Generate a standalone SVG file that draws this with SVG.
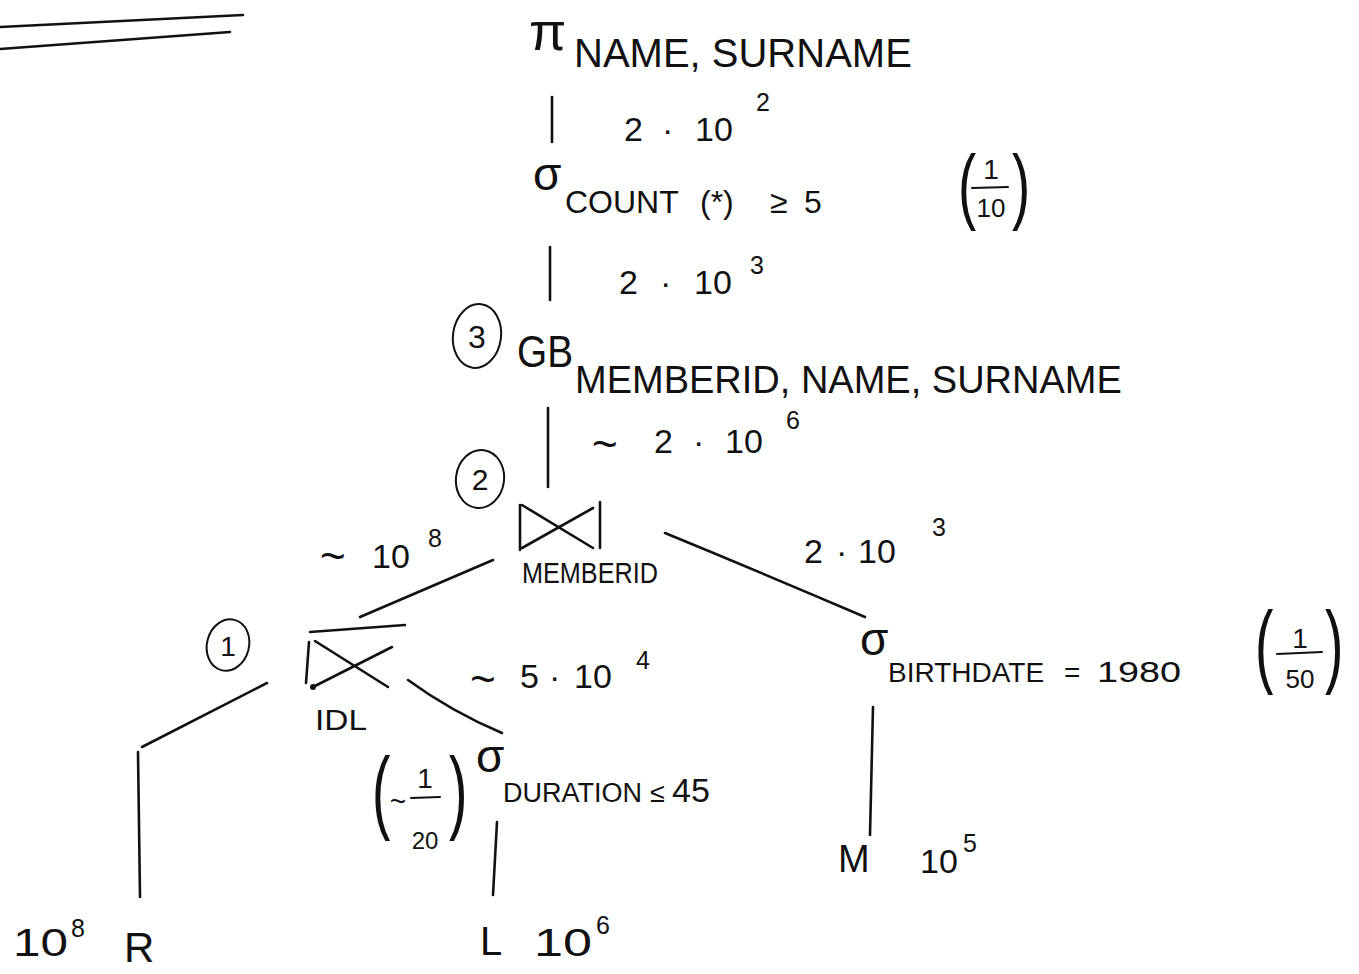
<svg xmlns="http://www.w3.org/2000/svg" width="1359" height="974" viewBox="0 0 1359 974">
<style>
  text { font-family: "Liberation Sans", "DejaVu Sans", sans-serif; fill: #111; }
  .ln { stroke: #111; stroke-width: 2.6; fill: none; stroke-linecap: round; stroke-linejoin: round; }
  .thin { stroke: #111; stroke-width: 2; fill: none; stroke-linecap: round; }
  .mid { text-anchor: middle; }
  .num { font-size: 34px; }
  .sup { font-size: 25px; }
  .til { font-size: 44px; }
</style>
<rect width="1359" height="974" fill="#ffffff"/>
<g id="title-underline">
  <path class="ln" d="M0,27 L243,15"/>
  <path class="ln" d="M0,49 L230,32"/>
</g>
<g id="connectors">
  <path class="ln" d="M552,97 L552,142"/>
  <path class="ln" d="M550,247 L550,300"/>
  <path class="ln" d="M548,408 L548,487"/>
  <path class="ln" d="M493,560 L360,617"/>
  <path class="ln" d="M665,533 Q760,572 865,617"/>
  <path class="ln" d="M267,683 L142,747"/>
  <path class="ln" d="M138,752 L140,897"/>
  <path class="ln" d="M408,680 Q452,712 502,733"/>
  <path class="ln" d="M497,822 L493,895"/>
  <path class="ln" d="M873,707 L870,835"/>
</g>
<g id="edge-labels">
  <text class="num" y="141"><tspan x="624">2</tspan><tspan x="662">·</tspan><tspan x="695">10</tspan></text>
  <text class="sup" x="756" y="111">2</text>
  <text class="num" y="294"><tspan x="619">2</tspan><tspan x="660">·</tspan><tspan x="694">10</tspan></text>
  <text class="sup" x="750" y="274">3</text>
  <text class="til" x="592" y="459">~</text>
  <text class="num" y="453"><tspan x="654">2</tspan><tspan x="693">·</tspan><tspan x="725">10</tspan></text>
  <text class="sup" x="786" y="429">6</text>
  <text class="til" x="320" y="571">~</text>
  <text class="num" x="372" y="568">10</text>
  <text class="sup" x="428" y="547">8</text>
  <text class="num" y="563"><tspan x="804">2</tspan><tspan x="836">·</tspan><tspan x="858">10</tspan></text>
  <text class="sup" x="932" y="536">3</text>
  <text class="til" x="470" y="694">~</text>
  <text class="num" y="688"><tspan x="520">5</tspan><tspan x="549">·</tspan><tspan x="574">10</tspan></text>
  <text class="sup" x="636" y="669">4</text>
</g>
<g id="node-project">
  <text x="529" y="50" font-size="54">π</text>
  <text x="574" y="67" font-size="40">NAME, SURNAME</text>
</g>
<g id="node-select-count">
  <text x="533" y="190" font-size="46">σ</text>
  <text font-size="32" y="213"><tspan x="565">COUNT</tspan><tspan x="700">(*)</tspan><tspan x="770">≥</tspan><tspan x="804">5</tspan></text>
  <text x="0" y="0" font-size="84" transform="translate(958,214) scale(0.65,1)">(</text>
  <text x="991" y="179" font-size="28" class="mid">1</text>
  <path class="thin" d="M972,188 L1008,187"/>
  <text x="991" y="217" font-size="26" class="mid">10</text>
  <text x="0" y="0" font-size="84" transform="translate(1012,214) scale(0.65,1)">)</text>
</g>
<g id="node-groupby">
  <ellipse class="thin" cx="477" cy="336" rx="24" ry="32" transform="rotate(8 477 336)"/>
  <text x="477" y="348" font-size="32" class="mid">3</text>
  <text x="517" y="367" font-size="44" textLength="56" lengthAdjust="spacingAndGlyphs">GB</text>
  <text x="575" y="393" font-size="38">MEMBERID, NAME, SURNAME</text>
</g>
<g id="node-join-memberid">
  <ellipse class="thin" cx="480" cy="479" rx="24" ry="29" transform="rotate(8 480 479)"/>
  <text x="480" y="490" font-size="30" class="mid">2</text>
  <path class="ln" d="M520,505 L520,550 M600,502 L600,548 M522,505 L593,548 M522,548 L593,508"/>
  <text x="522" y="583" font-size="30" textLength="136" lengthAdjust="spacingAndGlyphs">MEMBERID</text>
</g>
<g id="node-join-idl">
  <ellipse class="thin" cx="228" cy="645" rx="21" ry="26" transform="rotate(15 228 645)"/>
  <text x="228" y="656" font-size="28" class="mid">1</text>
  <path class="ln" d="M310,632 L405,625 M309,642 L306,683 M315,641 L388,687 M313,687 L392,647"/>
  <circle cx="313" cy="687" r="3" fill="#111"/>
  <text x="315" y="730" font-size="30" textLength="52" lengthAdjust="spacingAndGlyphs">IDL</text>
</g>
<g id="node-select-duration">
  <text x="476" y="772" font-size="46">σ</text>
  <text font-size="27" y="802"><tspan x="503">DURATION</tspan><tspan x="650">≤</tspan><tspan x="672" font-size="34">45</tspan></text>
  <text x="0" y="0" font-size="92" transform="translate(372,822) scale(0.6,1)">(</text>
  <text x="398" y="811" font-size="28" class="mid">~</text>
  <text x="425" y="788" font-size="28" class="mid">1</text>
  <path class="thin" d="M411,798 L440,797"/>
  <text x="425" y="849" font-size="24" class="mid">20</text>
  <text x="0" y="0" font-size="92" transform="translate(449,822) scale(0.6,1)">)</text>
</g>
<g id="node-select-birthdate">
  <text x="860" y="655" font-size="46">σ</text>
  <text font-size="28" y="682"><tspan x="888">BIRTHDATE</tspan><tspan x="1064">=</tspan></text>
  <text x="1097" y="682" font-size="30" textLength="84" lengthAdjust="spacingAndGlyphs">1980</text>
  <text x="0" y="0" font-size="92" transform="translate(1255,676) scale(0.6,1)">(</text>
  <text x="1300" y="648" font-size="28" class="mid">1</text>
  <path class="thin" d="M1277,654 L1322,652"/>
  <text x="1300" y="688" font-size="26" class="mid">50</text>
  <text x="0" y="0" font-size="92" transform="translate(1325,676) scale(0.6,1)">)</text>
</g>
<g id="node-R">
  <text x="13" y="956" font-size="38" textLength="55" lengthAdjust="spacingAndGlyphs">10</text>
  <text class="sup" x="71" y="937">8</text>
  <text x="124" y="962" font-size="42">R</text>
</g>
<g id="node-L">
  <text x="480" y="955" font-size="40">L</text>
  <text x="534" y="956" font-size="38" textLength="58" lengthAdjust="spacingAndGlyphs">10</text>
  <text class="sup" x="596" y="934">6</text>
</g>
<g id="node-M">
  <text x="838" y="872" font-size="38">M</text>
  <text x="920" y="873" font-size="34">10</text>
  <text class="sup" x="963" y="852">5</text>
</g>
</svg>
